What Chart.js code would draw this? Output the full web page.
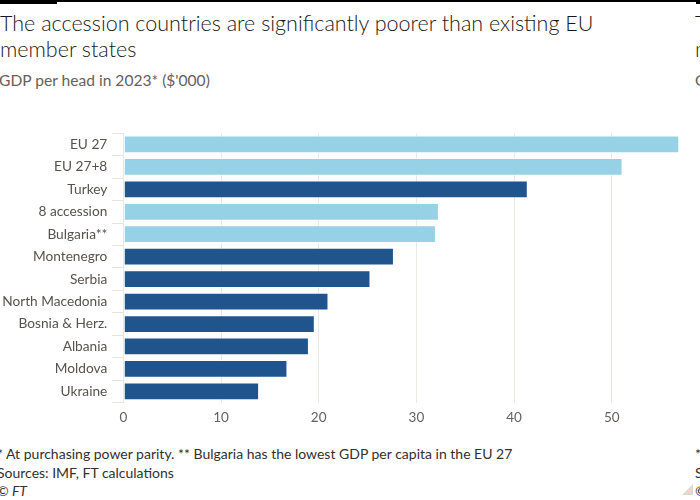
<!DOCTYPE html>
<html>
<head>
<meta charset="utf-8">
<script src="https://cdn.jsdelivr.net/npm/chart.js@4"></script>
<style>
  html, body { margin: 0; padding: 0; background: #fff; }
  body { width: 700px; height: 500px; position: relative; overflow: hidden; font-family: Lato, "Noto Sans", sans-serif; }
  .txt { position: absolute; white-space: nowrap; }
  #topbar { position: absolute; left: 0; top: 0; width: 57px; height: 4px; background: #000; }
  #topline { position: absolute; left: 0; top: 0; width: 696px; height: 1.5px; background: #000; }
  #topbar2 { position: absolute; left: 696px; top: 0; width: 10px; height: 4px; background: #000; }
  #title { left: 0; top: 10px; font-size: 21.5px; line-height: 26px; color: #1a1817; font-weight: 300; }
  #subtitle { left: -1px; top: 71px; font-size: 15.6px; color: #66605c; }
  #notes { left: -3px; top: 445px; font-size: 14px; line-height: 18.5px; color: #33302e; }
  #chartbox { position: absolute; left: 0; top: 120px; width: 700px; height: 310px; }
  #corner { position: absolute; left: 682px; top: 484px; width: 0; height: 0; border-left: 11px solid transparent; border-bottom: 11px solid #e4d8cf; }
</style>
</head>
<body>
<div id="topline"></div>
<div id="topbar"></div>
<div id="topbar2"></div>
<div class="txt" id="title">The accession countries are significantly poorer than existing EU<br>member states</div>
<div class="txt" id="subtitle">GDP per head in 2023* ($'000)</div>
<div class="txt" style="left:695px;top:10px;font-size:21.5px;line-height:26px;color:#1a1817;font-weight:300;">The<br>member</div>
<div class="txt" style="left:695px;top:71px;font-size:15.6px;color:#66605c;">GDP</div>
<div id="chartbox"><canvas id="chart"></canvas></div>
<div class="txt" id="notes">* At purchasing power parity. ** Bulgaria has the lowest GDP per capita in the EU 27<br>Sources: IMF, FT calculations<br><i>© FT</i></div>
<div class="txt" style="left:695px;top:445px;font-size:14px;line-height:18.5px;color:#33302e;">*<br>Sources<br><i>©</i></div>
<div id="corner"></div>
<script>
// GDP per head, 2023, PPP, $'000
const categories = ["EU 27", "EU 27+8", "Turkey", "8 accession", "Bulgaria**", "Montenegro",
  "Serbia", "North Macedonia", "Bosnia & Herz.", "Albania", "Moldova", "Ukraine"];
const gdpPerHead = [56.9, 51.1, 41.4, 32.3, 32.0, 27.7, 25.3, 21.0, 19.6, 19.0, 16.8, 13.9];
const groups = ["bloc", "bloc", "country", "bloc", "bloc", "country",
  "country", "country", "country", "country", "country", "country"];
const xTicks = [0, 10, 20, 30, 40, 50];

const groupColours = { bloc: "#96d1e6", country: "#1f558c" };

new Chart(document.getElementById("chart"), {
  type: "bar",
  data: {
    labels: categories,
    datasets: [{
      data: gdpPerHead,
      backgroundColor: groups.map(g => groupColours[g]),
      borderColor: "rgba(255,255,255,0.55)",
      borderWidth: 1,
      borderSkipped: false,
      barPercentage: 0.79,
      categoryPercentage: 1
    }]
  },
  options: {
    indexAxis: "y",
    responsive: true,
    maintainAspectRatio: false,
    animation: false,
    layout: { padding: { top: 12.6, right: 19.8, left: 0, bottom: 0 } },
    plugins: { legend: { display: false }, tooltip: { enabled: false } },
    scales: {
      x: {
        min: 0,
        max: 57,
        afterBuildTicks: s => { s.ticks = xTicks.map(v => ({ value: v })); },
        afterFit: s => { s.height = 27.4; },
        grid: { color: "#ebe8e4", drawTicks: false, lineWidth: 1 },
        border: { display: false },
        ticks: { padding: 7, color: "#66605c", font: { family: "Lato", size: 13.5 } }
      },
      y: {
        afterFit: s => { s.width = 123.3; },
        grid: { drawOnChartArea: false, drawTicks: true, tickLength: 11, tickColor: "#e6e2de" },
        border: { display: false },
        ticks: { padding: 5, color: "#57524e", font: { family: "Lato", size: 13.7 } }
      }
    }
  }
});
</script>
</body>
</html>
